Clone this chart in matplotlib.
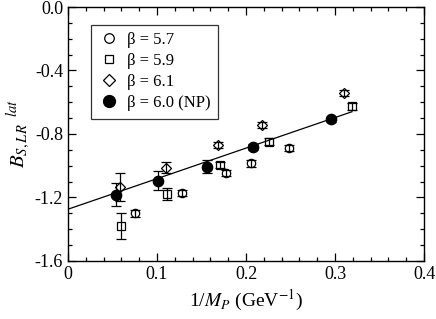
import numpy as np
import matplotlib
matplotlib.use('Agg')
import matplotlib.pyplot as plt
from matplotlib.ticker import MultipleLocator

plt.rcParams['font.family'] = 'Liberation Serif'
plt.rcParams['mathtext.fontset'] = 'stix'

# beta = 5.7
x57 = [0.0753, 0.128, 0.178, 0.2056, 0.2487]
y57 = [-1.300, -1.172, -1.044, -0.985, -0.890]
e57 = [0.020, 0.020, 0.020, 0.020, 0.020]

# beta = 5.9
x59 = [0.059, 0.111, 0.171, 0.226, 0.319]
y59 = [-1.380, -1.180, -0.997, -0.848, -0.626]
e59 = [0.084, 0.037, 0.020, 0.020, 0.020]

# beta = 6.1
x61 = [0.058, 0.110, 0.169, 0.218, 0.310]
y61 = [-1.136, -1.012, -0.869, -0.743, -0.540]
e61 = [0.088, 0.037, 0.020, 0.020, 0.020]

# beta = 6.0 (NP)
x60 = [0.054, 0.1008, 0.156, 0.208, 0.296]
y60 = [-1.184, -1.094, -1.006, -0.880, -0.708]
e60 = [0.072, 0.060, 0.042, 0.020, 0.015]

labels = ['β = 5.7', 'β = 5.9', 'β = 6.1', 'β = 6.0 (NP)']

# linear fit
fit_intercept = -1.274
fit_slope = 1.925
fit_xmax = 0.319

fig = plt.figure(figsize=(4.36, 3.19), dpi=100)
ax = fig.add_axes([0.156, 0.182, 0.8165, 0.796])

xf = np.array([0.0, fit_xmax])
ax.plot(xf, fit_intercept + fit_slope * xf, color='black', lw=0.9, zorder=1)

common = dict(ls='none', ecolor='black', elinewidth=0.9, capsize=3.5, capthick=0.9,
              mec='black', mew=0.9)
c1 = ax.errorbar(x57, y57, yerr=e57, fmt='o', ms=6, mfc='none', **common)
c2 = ax.errorbar(x59, y59, yerr=e59, fmt='s', ms=5.5, mfc='none', **common)
c3 = ax.errorbar(x61, y61, yerr=e61, fmt='D', ms=5, mfc='none', **common)
c4 = ax.errorbar(x60, y60, yerr=e60, fmt='o', ms=7.5, mfc='black', **common)

ax.set_xlim(0, 0.4)
ax.set_ylim(-1.6, 0.0)
ax.set_xticks([0, 0.1, 0.2, 0.3, 0.4])
ax.set_xticklabels(['0', '0.1', '0.2', '0.3', '0.4'])
ax.set_yticks([-1.6, -1.2, -0.8, -0.4, 0.0])
ax.set_yticklabels(['-1.6', '-1.2', '-0.8', '-0.4', '0.0'])
ax.xaxis.set_minor_locator(MultipleLocator(0.02))
ax.yaxis.set_minor_locator(MultipleLocator(0.1))
ax.tick_params(which='both', direction='in', top=True, right=True, labelsize=13, width=0.9)
ax.tick_params(which='major', length=6)
ax.tick_params(which='minor', length=3)
for s in ax.spines.values():
    s.set_linewidth(1.0)

ax.set_xlabel(r'1/$M_P$ (GeV$^{\mathrm{-1}}$)', fontsize=14)
ax.set_ylabel(r'$B_{S,LR}{}^{\ \ lat}$', fontsize=15, labelpad=2)

leg = ax.legend([c[0] for c in (c1, c2, c3, c4)], labels,
                loc='upper left', bbox_to_anchor=(0.065, 0.93), fontsize=12, frameon=True,
                fancybox=False, edgecolor='black', handletextpad=0.5, borderpad=0.45,
                labelspacing=0.3, handlelength=1.2, borderaxespad=0, markerscale=1.15)
leg.get_frame().set_linewidth(0.9)

fig.savefig('out.png', dpi=100)
